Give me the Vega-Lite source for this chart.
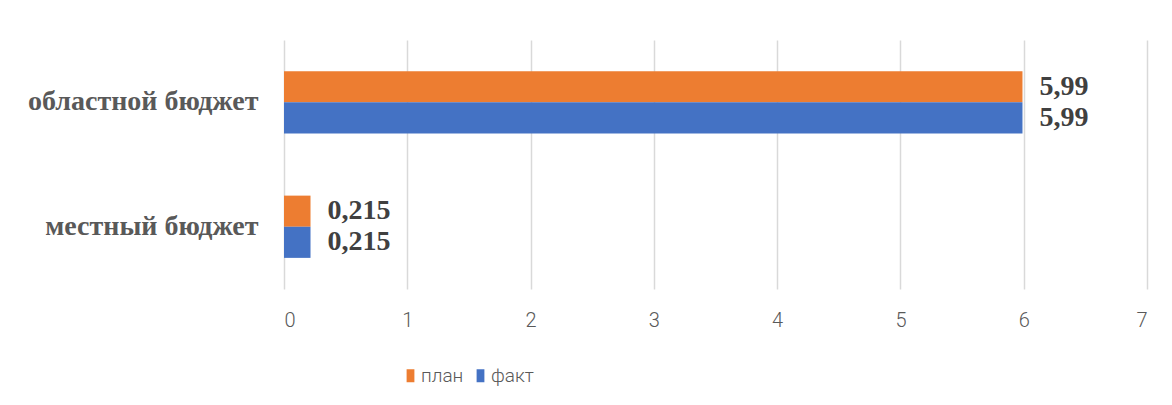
{
  "$schema": "https://vega.github.io/schema/vega-lite/v6.json",
  "width": 863,
  "height": 249,
  "autosize": {"type": "none"},
  "padding": {"left": 284, "top": 40, "right": 25, "bottom": 116},
  "background": "white",
  "config": {
    "view": {"stroke": null},
    "locale": {"number": {"decimal": ",", "thousands": " ", "grouping": [3], "currency": ["", ""]}}
  },
  "data": {
    "values": [
      {"budget": "областной бюджет", "series": "план", "value": 5.99},
      {"budget": "областной бюджет", "series": "факт", "value": 5.99},
      {"budget": "местный бюджет", "series": "план", "value": 0.215},
      {"budget": "местный бюджет", "series": "факт", "value": 0.215}
    ]
  },
  "encoding": {
    "y": {
      "field": "budget", "type": "nominal",
      "sort": ["областной бюджет", "местный бюджет"],
      "scale": {"paddingInner": 0, "paddingOuter": 0},
      "axis": {"title": null, "ticks": false, "domain": false, "labelFont": "Liberation Serif", "labelFontWeight": "bold", "labelFontSize": 28, "labelColor": "#595959", "labelPadding": 26, "labelLimit": 400}
    },
    "yOffset": {
      "field": "series", "type": "nominal", "sort": ["план", "факт"],
      "scale": {"paddingInner": 0, "paddingOuter": 1}
    },
    "x": {
      "field": "value", "type": "quantitative",
      "scale": {"domain": [0, 7], "nice": false},
      "axis": {"title": null, "values": [0, 1, 2, 3, 4, 5, 6, 7], "format": "d", "grid": true, "gridColor": "#d9d9d9", "gridWidth": 1.5, "ticks": false, "domain": false, "labelFont": "Roboto", "labelFontWeight": 300, "labelFontSize": 20, "labelColor": "#595959", "labelPadding": 21}
    }
  },
  "layer": [
    {
      "mark": {"type": "bar"},
      "encoding": {
        "color": {
          "field": "series", "type": "nominal",
          "scale": {"domain": ["план", "факт"], "range": ["#ED7D31", "#4472C4"]},
          "legend": {"title": null, "orient": "none", "legendX": 117, "legendY": 326, "direction": "horizontal", "symbolType": "M-0.6,-1H0.6V1H-0.6Z", "symbolSize": 169, "symbolStrokeWidth": 0, "symbolOpacity": 1, "labelFont": "Roboto", "labelFontWeight": 300, "labelFontSize": 19, "labelColor": "#595959", "labelOffset": 1, "columnPadding": 7}
        }
      }
    },
    {
      "mark": {"type": "text", "align": "left", "baseline": "middle", "dx": 17, "font": "Liberation Serif", "fontWeight": "bold", "fontSize": 28, "color": "#404040"},
      "encoding": {"text": {"field": "value", "type": "quantitative", "format": ".3~f"}}
    }
  ]
}
